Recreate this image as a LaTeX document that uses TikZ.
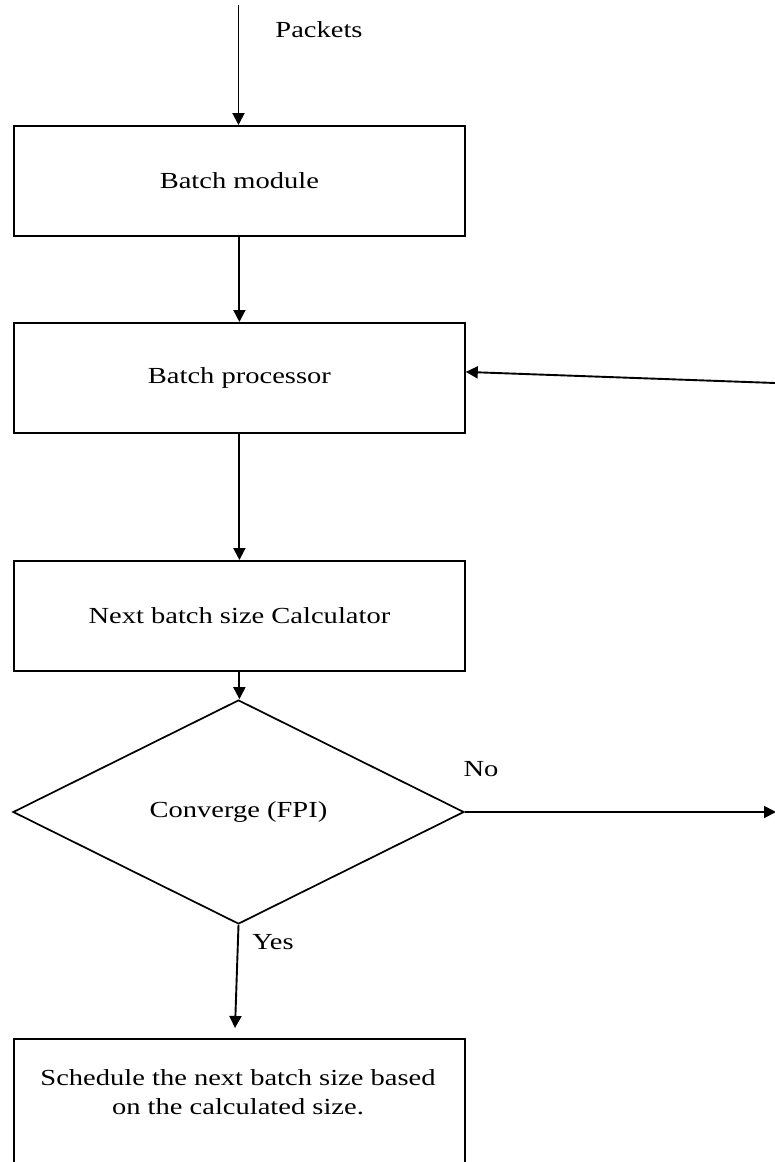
\documentclass[tikz,border=0pt]{standalone}
\usepackage{fontspec}
\setmainfont{Liberation Serif}[FakeStretch=1.24]
\usetikzlibrary{arrows.meta,shapes.geometric,calc}
\begin{document}
\begin{tikzpicture}[x=1pt,y=-1pt,
  every node/.style={font=\fontsize{23}{29}\selectfont},
  box/.style={draw, line width=1.8pt, minimum width=451pt, minimum height=110pt, inner sep=0pt, anchor=north west},
  dia/.style={draw, diamond, line width=1.7pt, minimum width=451pt, minimum height=224pt, inner sep=0pt},
  conn/.style={line width=1.9pt, -{Triangle[length=12pt,width=12pt]}},
  lbl/.style={inner sep=0pt}]
\useasboundingbox (0,0) rectangle (775,1162);
\clip (0,0) rectangle (775,1162);
\fill[white] (0,0) rectangle (775,1162);
\node[box] (b1) at (13,125) {Batch module};
\node[box] (b2) at (13,322) {Batch processor};
\node[box] (b3) at (13,560) {Next batch size Calculator};
\node[dia] (d) at (238.5,812) {Converge (FPI)};
\node[box, minimum height=170pt] (b4) at (13,1038) {};
\node[align=center, inner sep=0pt] (b4t) at (238,1092) {Schedule the next batch size based\\on the calculated size.};
\coordinate (top) at (238.5,5);
\coordinate (fb) at (775,383);
\coordinate (noend) at (776,812);
\coordinate (yesend) at (235,1028);
\node[lbl] (pk) at (319,30) {Packets};
\node[lbl] (no) at (481,769) {No};
\node[lbl] (yes) at (273,942) {Yes};
\draw[conn] (top) -- (b1.north -| top);
\draw[conn] (b1.south) -- (b2.north);
\draw[conn] (b2.south) -- (b3.north);
\draw[conn] (b3.south) -- (b3.south |- d.north);
\draw[conn] (fb) -- ($(b2.east)+(0,-6)$);
\draw[conn] (d.east) -- (noend);
\draw[conn] (d.south) -- (yesend);
\end{tikzpicture}
\end{document}
